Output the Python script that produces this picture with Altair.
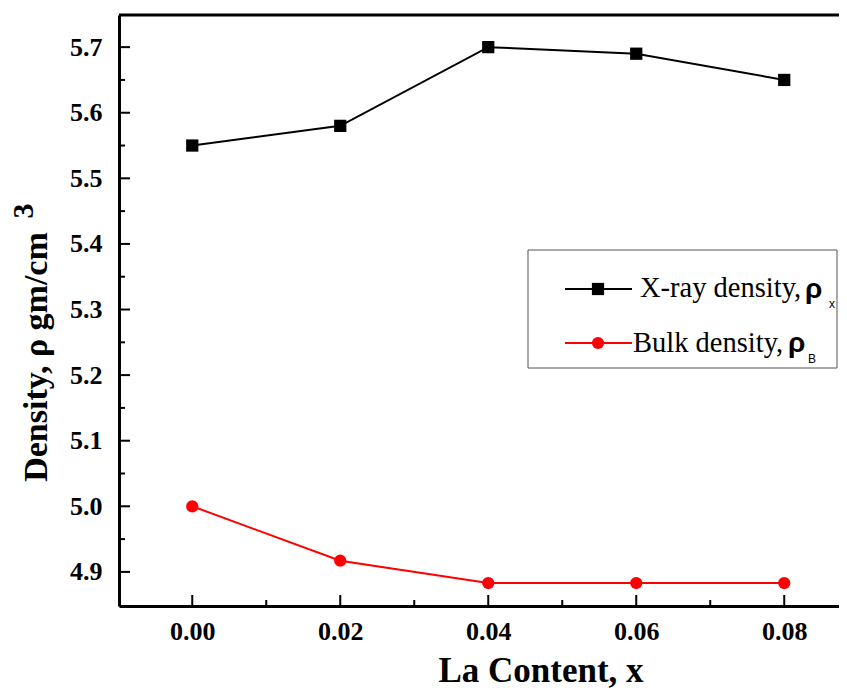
import altair as alt
import pandas as pd

# ---- data ----
la_content = [0.00, 0.02, 0.04, 0.06, 0.08]
xray_density = [5.55, 5.58, 5.70, 5.69, 5.65]
bulk_density = [5.00, 4.917, 4.883, 4.883, 4.883]
series_names = ["X-ray density", "Bulk density"]

x_major = [0.00, 0.02, 0.04, 0.06, 0.08]
x_minor = [0.01, 0.03, 0.05, 0.07]
y_major = [4.9, 5.0, 5.1, 5.2, 5.3, 5.4, 5.5, 5.6, 5.7]
y_minor = [4.95, 5.05, 5.15, 5.25, 5.35, 5.45, 5.55, 5.65]

W, H = 720, 591
SERIF = "Liberation Serif"
SANS = "Liberation Sans"

rows = []
for xv, yv in zip(la_content, xray_density):
    rows.append({"x": xv, "y": yv, "s": series_names[0]})
for xv, yv in zip(la_content, bulk_density):
    rows.append({"x": xv, "y": yv, "s": series_names[1]})
df = pd.DataFrame(rows)

xs = alt.Scale(domain=[-0.0099, 0.0874], nice=False, zero=False)
ys = alt.Scale(domain=[4.848, 5.749], nice=False, zero=False)
col = alt.Scale(domain=series_names, range=["#000000", "#ff0000"])
shp = alt.Scale(domain=series_names, range=["square", "circle"])

x_axis = alt.Axis(values=x_major, format=".2f", title=None, grid=False, ticks=False, tickSize=0,
                  labelFont=SERIF, labelFontWeight="bold", labelFontSize=26, labelColor="black",
                  labelPadding=12, domainColor="black", domainWidth=3)
y_axis = alt.Axis(values=y_major, format=".1f", title=None, grid=False, ticks=False, tickSize=0,
                  labelFont=SERIF, labelFontWeight="bold", labelFontSize=26, labelColor="black",
                  labelPadding=17, domainColor="black", domainWidth=3)

base = alt.Chart(df)
lines = base.mark_line(strokeWidth=2, clip=True).encode(
    x=alt.X("x:Q", scale=xs, axis=x_axis),
    y=alt.Y("y:Q", scale=ys, axis=y_axis),
    color=alt.Color("s:N", scale=col, legend=None),
    detail="s:N",
)
points = base.mark_point(filled=True, opacity=1, size=150).encode(
    x=alt.X("x:Q", scale=xs),
    y=alt.Y("y:Q", scale=ys),
    color=alt.Color("s:N", scale=col, legend=None),
    shape=alt.Shape("s:N", scale=shp, legend=None),
)

# inside ticks
xt_major = pd.DataFrame({"v": x_major})
xt_minor = pd.DataFrame({"v": x_minor})
yt_major = pd.DataFrame({"v": y_major})
yt_minor = pd.DataFrame({"v": y_minor})
xticks_major = alt.Chart(xt_major).mark_rule(color="black", strokeWidth=2).encode(
    x=alt.X("v:Q", scale=xs), y=alt.value(H), y2=alt.value(H - 11))
xticks_minor = alt.Chart(xt_minor).mark_rule(color="black", strokeWidth=2).encode(
    x=alt.X("v:Q", scale=xs), y=alt.value(H), y2=alt.value(H - 6))
yticks_major = alt.Chart(yt_major).mark_rule(color="black", strokeWidth=2).encode(
    y=alt.Y("v:Q", scale=ys), x=alt.value(0), x2=alt.value(11))
yticks_minor = alt.Chart(yt_minor).mark_rule(color="black", strokeWidth=2).encode(
    y=alt.Y("v:Q", scale=ys), x=alt.value(0), x2=alt.value(6))

one = alt.Chart(pd.DataFrame({"d": [0]}))
top_border = one.mark_rule(color="black", strokeWidth=3).encode(
    x=alt.value(0), x2=alt.value(W), y=alt.value(0))

# titles
x_title = one.mark_text(text="La Content, x", font=SERIF, fontWeight="bold", fontSize=35,
                        align="center", baseline="alphabetic", color="black").encode(
    x=alt.value(422), y=alt.value(667))
y_title = one.mark_text(text="Density, ρ gm/cm", font=SERIF, fontWeight="bold", fontSize=34,
                        angle=270, align="center", baseline="alphabetic", color="black").encode(
    x=alt.value(-72), y=alt.value(342))
y_title_sup = one.mark_text(text="3", font=SERIF, fontWeight="bold", fontSize=30,
                            angle=270, align="center", baseline="alphabetic", color="black").encode(
    x=alt.value(-86), y=alt.value(196))

# legend (decoration)
leg_box = one.mark_rect(fill="white", stroke="#555555", strokeWidth=1).encode(
    x=alt.value(409), x2=alt.value(718), y=alt.value(235), y2=alt.value(353))
leg_l1 = one.mark_rule(color="black", strokeWidth=2).encode(
    x=alt.value(446), x2=alt.value(513), y=alt.value(274))
leg_p1 = one.mark_point(shape="square", filled=True, opacity=1, size=150, color="black").encode(
    x=alt.value(479), y=alt.value(274))
leg_l2 = one.mark_rule(color="#ff0000", strokeWidth=2).encode(
    x=alt.value(446), x2=alt.value(513), y=alt.value(328))
leg_p2 = one.mark_point(shape="circle", filled=True, opacity=1, size=150, color="#ff0000").encode(
    x=alt.value(479), y=alt.value(328))
leg_t1 = one.mark_text(text="X-ray density,", font=SERIF, fontSize=28.5, align="left",
                       baseline="alphabetic", color="black").encode(x=alt.value(521), y=alt.value(282))
leg_r1 = one.mark_text(text="ρ", font=SANS, fontWeight="bold", fontSize=28, align="left",
                       baseline="alphabetic", color="black").encode(x=alt.value(686), y=alt.value(283))
leg_s1 = one.mark_text(text="x", font=SANS, fontSize=12, align="left",
                       baseline="alphabetic", color="black").encode(x=alt.value(710), y=alt.value(293))
leg_t2 = one.mark_text(text="Bulk density,", font=SERIF, fontSize=28.5, align="left",
                       baseline="alphabetic", color="black").encode(x=alt.value(514), y=alt.value(337))
leg_r2 = one.mark_text(text="ρ", font=SANS, fontWeight="bold", fontSize=28, align="left",
                       baseline="alphabetic", color="black").encode(x=alt.value(669), y=alt.value(337))
leg_s2 = one.mark_text(text="B", font=SANS, fontSize=12, align="left",
                       baseline="alphabetic", color="black").encode(x=alt.value(689), y=alt.value(348))

chart = alt.layer(
    lines, points, xticks_major, xticks_minor, yticks_major, yticks_minor, top_border,
    x_title, y_title, y_title_sup,
    leg_box, leg_l1, leg_p1, leg_l2, leg_p2, leg_t1, leg_r1, leg_s1, leg_t2, leg_r2, leg_s2,
).properties(
    width=W, height=H,
    padding={"left": 111, "top": 7, "right": 0, "bottom": 83},
    autosize=alt.AutoSizeParams(type="none"),
).configure_view(stroke=None).configure(background="white")

chart.save("out.html", embed_options={"renderer": "svg", "actions": False})
